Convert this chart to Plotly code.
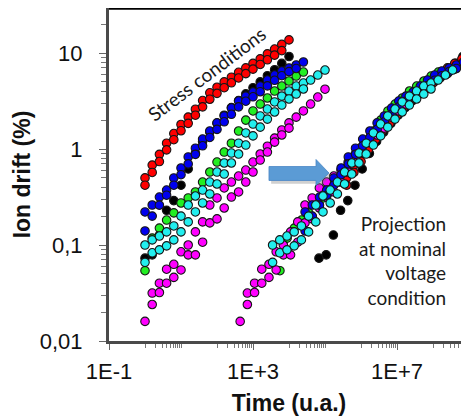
import plotly.graph_objects as go

# ---- data -------------------------------------------------------------
# sampling times under stress (u.a.)
t_stress = [1, 1.585, 2.512, 3.981, 6.31, 10, 15.85, 25.12, 39.81, 63.1,
            100, 158.5, 251.2, 398.1, 631, 1000, 1585, 2512, 3981, 6310,
            10000, 15850, 25120, 39810, 63100, 100000]

red_a = [0.50, 0.68, 0.88, 1.15, 1.45, 1.80, 2.15, 2.6, 3.2, 3.85, 4.4,
         5.0, 5.6, 6.3, 7.0, 7.8, 8.7, 9.8, 11.0, 12.3, 13.7]
red_b = [0.42, 0.57, 0.74, 0.98, 1.25, 1.55, 1.85, 2.25, 2.75, 3.3, 3.8,
         4.35, 4.9, 5.5, 6.1, 6.8, 7.6, 8.5, 9.5, 10.6]
black_a = [0.073, 0.079, 0.127, 0.23, 0.29, 0.42, 0.62, 0.9, 1.2, 1.5, 1.85,
           2.25, 2.7, 3.2, 3.75, 4.35, 5.0, 5.8, 6.7, 7.8, 9.2]
blue_a = [0.221, 0.261, 0.316, 0.374, 0.499, 0.634, 0.826, 1.02, 1.27, 1.54,
          1.87, 2.21, 2.67, 3.16, 3.56, 3.92, 4.53, 5.23, 5.90, 6.49, 6.98,
          7.50, 8.06]
blue_b = [0.14, 0.2, 0.26, 0.33, 0.42, 0.54, 0.7, 0.88, 1.08, 1.32, 1.6,
          1.92, 2.3, 2.75, 3.15, 3.5, 3.95, 4.55, 5.2, 5.8, 6.4, 6.9]
green_a = [0.054, 0.118, 0.150, 0.182, 0.216, 0.274, 0.309, 0.357, 0.453,
           0.576, 0.732, 0.93, 1.15, 1.54, 2.0, 2.49, 2.94, 3.40, 4.02, 4.53,
           5.11, 5.76, 6.34]
cyan_a = [0.10, 0.113, 0.124, 0.137, 0.158, 0.200, 0.261, 0.324, 0.374,
          0.453, 0.576, 0.715, 0.908, 1.15, 1.47, 1.82, 2.21, 2.61, 3.09,
          3.56, 4.02, 4.53, 4.87, 5.23, 5.90, 6.65]
cyan_b = [0.066, 0.083, 0.089, 0.098, 0.113, 0.137, 0.174, 0.221, 0.274,
          0.34, 0.432, 0.549, 0.715, 0.887, 1.10, 1.37, 1.69, 2.05, 2.43,
          2.87, 3.32, 3.74, 4.22]
magenta_a = [0.016, 0.0316, 0.040, 0.056, 0.063, 0.085, 0.10, 0.137, 0.174,
             0.261, 0.309, 0.393, 0.453, 0.523, 0.604, 0.732, 0.887, 1.07,
             1.30, 1.58, 1.87, 2.15, 2.49, 2.94, 3.48, 4.2]
magenta_b = [0.024, 0.032, 0.040, 0.046, 0.055, 0.079, 0.079, 0.107, 0.17,
             0.187, 0.243, 0.316, 0.357, 0.453, 0.576, 0.768, 0.93, 1.18,
             1.40, 1.65]   # starts at the 2nd sampling time

# acceleration factors used for the projection to nominal voltage
accel = {"black": 68000, "red": 400000, "green": 5600,
         "magenta": 440, "blue": 28000, "cyan": 3500}

colors = {"black": "#000000", "red": "#FF0000", "green": "#22EE22",
          "magenta": "#FF00FF", "blue": "#0000EE", "cyan": "#22EEEE"}

series = [  # (colour key, values, index of first sampling time)
    ("black", black_a, 0),
    ("red", red_a, 0), ("red", red_b, 0),
    ("green", green_a, 0),
    ("magenta", magenta_a, 0), ("magenta", magenta_b, 1),
    ("blue", blue_a, 0), ("blue", blue_b, 0),
    ("cyan", cyan_a, 0), ("cyan", cyan_b, 0),
]

x_major = [0.1, 1e3, 1e7]
x_major_text = ["1E-1", "1E+3", "1E+7"]
y_major = [0.01, 0.1, 1, 10]
y_major_text = ["0,01", "0,1", "1", "10"]

# ---- figure -----------------------------------------------------------
fig = go.Figure()

marker_common = dict(size=8.5, line=dict(color="#151515", width=1.1))

for key, vals, i0 in series:
    ts = t_stress[i0:i0 + len(vals)]
    fig.add_trace(go.Scatter(x=ts, y=vals, mode="markers",
                             marker=dict(color=colors[key], **marker_common),
                             hoverinfo="skip"))
for key, vals, i0 in series:
    ts = [t * accel[key] for t in t_stress[i0:i0 + len(vals)]]
    fig.add_trace(go.Scatter(x=ts, y=vals, mode="markers",
                             marker=dict(color=colors[key], **marker_common),
                             hoverinfo="skip"))

x_minor = [m * 10 ** e for e in (0, 2, 4, 6, 8) for m in range(1, 11)]
y_minor = [m * 10 ** e for e in (-2, -1, 0, 1) for m in range(2, 10)]

tick_font = dict(family="Liberation Sans, Arial, sans-serif", size=22, color="#111")
title_font = dict(family="Liberation Sans, Arial, sans-serif", size=23, color="#111")

fig.update_xaxes(type="log", range=[-1, 9], showgrid=False, zeroline=False,
                 automargin=False,
                 showline=True, linecolor="#4a4a4a", linewidth=3,
                 ticks="outside", ticklen=6, tickwidth=1.2, tickcolor="#666",
                 tickvals=x_major, ticktext=x_major_text, tickfont=tick_font,
                 ticklabelstandoff=3,
                 minor=dict(tickvals=x_minor, ticks="outside", ticklen=4,
                            tickwidth=1, tickcolor="#777", showgrid=False),
                 title=dict(text="<b>Time (u.a.)</b>", font=title_font, standoff=13))
fig.update_yaxes(type="log", range=[-2, 1.469], showgrid=False, zeroline=False,
                 automargin=False,
                 showline=True, linecolor="#4a4a4a", linewidth=3,
                 ticks="outside", ticklen=7, tickwidth=1.2, tickcolor="#666",
                 tickvals=y_major, ticktext=y_major_text, tickfont=tick_font,
                 ticklabelstandoff=12,
                 minor=dict(tickvals=y_minor, ticks="outside", ticklen=5,
                            tickwidth=1, tickcolor="#777", showgrid=False),
                 title=dict(text="<b>Ion drift (%)</b>", font=title_font, standoff=3))

# top frame line
fig.add_shape(type="line", xref="paper", yref="paper", x0=0, x1=1, y0=1, y1=1,
              line=dict(color="black", width=3.5))

# arrow (shadow + body), paper coordinates
def arrow_path(dx=0.0, dy=0.0):
    pts = [(0.4444, 0.524), (0.575, 0.524), (0.575, 0.545), (0.6111, 0.5045),
           (0.575, 0.467), (0.575, 0.482), (0.4444, 0.482)]
    return "M " + " L ".join(f"{x + dx:.4f},{y + dy:.4f}" for x, y in pts) + " Z"

fig.add_shape(type="path", xref="paper", yref="paper", path=arrow_path(0.006, -0.01),
              fillcolor="rgba(120,120,120,0.35)", line=dict(width=0), layer="above")
fig.add_shape(type="path", xref="paper", yref="paper", path=arrow_path(),
              fillcolor="#5B9BD5", line=dict(color="#4A86C5", width=0.8), layer="above")

ann_font = dict(family="Lato, Open Sans, sans-serif", size=19, color="#1a1a1a")
fig.add_annotation(text="Stress conditions", xref="paper", yref="paper",
                   x=0.272, y=0.803, xanchor="center", yanchor="middle",
                   showarrow=False, textangle=-37, font=ann_font)
fig.add_annotation(text="Projection<br>at nominal<br>voltage<br>condition",
                   xref="paper", yref="paper", x=0.941, y=0.2425,
                   xanchor="right", yanchor="middle", align="right",
                   showarrow=False, font=ann_font)

# the page places the figure 8 px from the top-left corner of the window,
# so the figure is sized to fit the 469x416 window exactly
fig.update_layout(width=461, height=408, margin=dict(l=101, r=0, t=0, b=75),
                  plot_bgcolor="white", paper_bgcolor="white", showlegend=False)

fig.write_html("out.html")
